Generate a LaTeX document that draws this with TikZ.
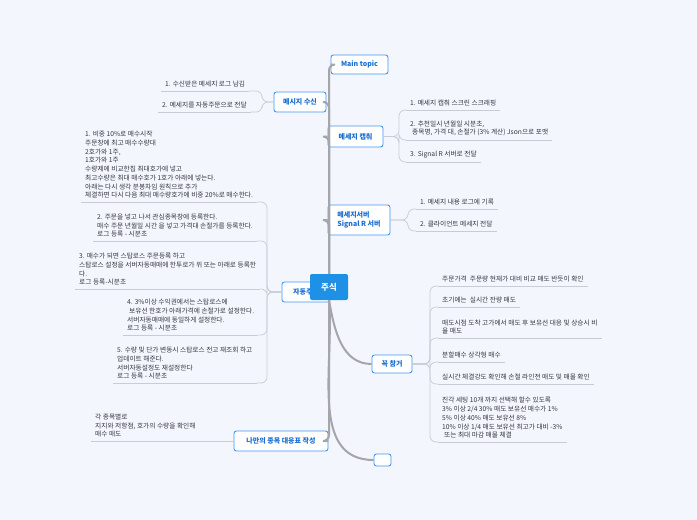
\documentclass[tikz,border=0pt]{standalone}
\usepackage{fontspec}
\setmainfont{Noto Sans CJK KR}
\definecolor{pagebg}{RGB}{243,246,253}
\definecolor{hubblue}{RGB}{30,144,230}
\definecolor{topicline}{RGB}{70,150,240}
\definecolor{topictext}{RGB}{25,110,210}
\definecolor{leaftext}{RGB}{55,55,65}
\definecolor{trunkgray}{RGB}{165,165,172}
\definecolor{twiggray}{RGB}{200,204,213}
\newcommand{\leaffont}{\fontsize{6.7}{8.7}\selectfont}
\newcommand{\topicfont}{\fontsize{7}{9}\selectfont\bfseries}

\begin{document}
\begin{tikzpicture}[x=1pt, y=-1pt,
    topic/.style={draw=topicline, fill=white, line width=0.9pt, rounded corners=2.5pt, text=topictext, font=\topicfont, align=center, inner sep=2pt},
    leaf/.style={anchor=south west, align=left, font=\leaffont, text=leaftext, inner xsep=4pt, inner ysep=3.5pt,
        append after command={(\tikzlastnode.south west) edge[twig] (\tikzlastnode.south east)}},
    trunk/.style={draw=trunkgray, line width=2pt, rounded corners=6pt},
    twig/.style={draw=twiggray, line width=0.7pt, rounded corners=6pt}]
    % Background
    \fill[pagebg] (0,0) rectangle (697,520);
    \useasboundingbox (0,0) rectangle (697,520);

    % Junctions
    \coordinate (jrecv) at (262,102);
    \coordinate (jcapt) at (399,136.5);
    \coordinate (jsigr) at (408,220);
    \coordinate (jauto) at (267,292);
    \coordinate (jmust) at (430,364);

    % Topics
    \node[topic, minimum width=57pt, minimum height=19pt] (main) at (359.5,64.5) {Main topic};
    \node[topic, minimum width=52pt, minimum height=20pt] (recv) at (300,102) {메시지 수신};
    \node[topic, minimum width=55pt, minimum height=21pt] (capt) at (355.5,136.5) {메세지 캡춰};
    \node[topic, minimum width=62pt, minimum height=30pt, align=left] (sigr) at (359,220) {메세지서버\\Signal R 서버};
    \node[topic, minimum width=48pt, minimum height=20pt] (auto) at (306,292) {자동주문};
    \node[topic, minimum width=40pt, minimum height=18pt] (must) at (392,364) {꼭 참거};
    \node[topic, minimum width=94pt, minimum height=20pt] (plan) at (281,441) {나만의 종목 대응표 작성};
    \node[topic, minimum width=17pt, minimum height=12pt] (blank) at (382.5,460) {};

    % Centre
    \node[fill=hubblue, rounded corners=2pt, minimum width=38pt, minimum height=26pt, text=white, font=\fontsize{8.5}{10}\selectfont\bfseries] (hub) at (329,287) {주식};

    % Trunk lines
    \draw[trunk] (hub.north) |- (main.west);
    \draw[trunk] (hub.north) |- (recv.east);
    \draw[trunk] (hub.north) |- (capt.west);
    \draw[trunk] (hub.north) |- (sigr.west);
    \draw[trunk] (hub.south) |- (plan.east);
    \draw[trunk] (hub.south) to[out=-80, in=180] (must.west);
    \draw[trunk] (hub.south) to[out=-85, in=180] (blank.west);

    % Message in
    \node[leaf] (r1) at (161,91) {1. 수신받은 메세지 로그 남김};
    \node[leaf] (r2) at (158,112) {2. 메세지를 자동주문으로 전달};
    \draw[twig] (recv.west) -- (jrecv) |- (r1.south east);
    \draw[twig] (recv.west) -- (jrecv) |- (r2.south east);

    % Capture
    \node[leaf] (c1) at (406,110) {1. 메세지 캡춰 스크린 스크래핑};
    \node[leaf] (c2) at (406,140) {2. 추천일시 년월일 시분초,\\\hspace{2pt}종목명, 가격 대, 손절가 (3\% 계산) Json으로 포맷};
    \node[leaf] (c3) at (406,162) {3. Signal R 서버로 전달};
    \draw[twig] (capt.east) -- (jcapt) |- (c1.south west);
    \draw[twig] (capt.east) -- (jcapt) |- (c2.south west);
    \draw[twig] (capt.east) -- (jcapt) |- (c3.south west);

    % Signal R server
    \node[leaf] (s1) at (416,209) {1. 메세지 내용 로그에 기록};
    \node[leaf] (s2) at (416,231) {2. 클라이언트 메세지 전달};
    \draw[twig] (sigr.east) -- (jsigr) |- (s1.south west);
    \draw[twig] (sigr.east) -- (jsigr) |- (s2.south west);

    % Auto order
    \node[leaf] (a1) at (81,202) {1. 비중 10\%로 매수시작\\주문창에 최고 매수수량대\\2호가와 1주,\\1호가와 1주\\수량제에 비교한칩 최대호가에 넣고\\최고수량은 최대 매수호가 1호가 아래에 넣는다.\\아래는 다시 생각 분봉차임 원칙으로 추가\\체결하면 다시 다음 최대 매수량호가에 비중 20\%로 매수한다.};
    \node[leaf] (a2) at (93,241) {2. 주문을 넣고 나서 관심종목창에 등록한다.\\매수 주문 년월일 시간 을 넣고 가격대 손절가를 등록한다.\\로그 등록 - 시분초};
    \node[leaf] (a3) at (75,289) {3. 매수가 되면 스탑로스 주문등록 하고\\스탑로스 설정을 서버자동매매에 한투로가 위 또는 아래로 등록한\\다.\\로그 등록-시분초};
    \node[leaf] (a4) at (123,335) {4. 3\%이상 수익권에서는 스탑로스에\\\hspace{2pt}보유선 한호가 아래가격에 손절가로 설정한다.\\서버자동매매에 동일하게 설정한다.\\로그 등록 - 시분초};
    \node[leaf] (a5) at (113,383) {5. 수량 및 단가 변동시 스탑로스 전고 재조회 하고\\업데이트 해준다.\\서버자동설정도 재설정한다\\로그 등록 - 시분초};
    \draw[twig] (auto.west) -- (jauto) |- (a1.south east);
    \draw[twig] (auto.west) -- (jauto) |- (a2.south east);
    \draw[twig] (auto.west) -- (jauto) |- (a3.south east);
    \draw[twig] (auto.west) -- (jauto) |- (a4.south east);
    \draw[twig] (auto.west) -- (jauto) |- (a5.south east);

    % Must check
    \node[leaf] (m1) at (438,286) {주문가격\ \ 주문량 현재가 대비 비교 매도 반듯이 확인};
    \node[leaf] (m2) at (438,307) {초기에는\ \ 실시간 잔량 매도};
    \node[leaf] (m3) at (438,338) {매도시점 도착 고가에서 매도 후 보유선 대응 및 상승시 비\\율 매도};
    \node[leaf] (m4) at (438,362) {분할매수 상각형 매수};
    \node[leaf] (m5) at (438,384) {실시간 체결강도 확인해 손절 라인전 매도 및 매물 확인};
    \node[leaf] (m6) at (438,442) {진각 세팅 10개 까지 선택해 할수 있도록\\3\% 이상 2/4 30\% 매도 보유선 매수가 1\%\\5\% 이상 40\% 매도 보유선 8\%\\10\% 이상 1/4 매도 보유선 최고가 대비 -3\%\\\hspace{2pt}또는 최대 마감 매물 체결};
    \draw[twig] (must.east) -- (jmust) |- (m1.south west);
    \draw[twig] (must.east) -- (jmust) |- (m2.south west);
    \draw[twig] (must.east) -- (jmust) |- (m3.south west);
    \draw[twig] (must.east) -- (jmust) |- (m4.south west);
    \draw[twig] (must.east) -- (jmust) |- (m5.south west);
    \draw[twig] (must.east) -- (jmust) |- (m6.south west);

    % Own table
    \node[leaf] (p1) at (91,441) {각 종목별로\\지지와 저항점, 호가의 수량을 확인해\\매수 매도};
    \draw[twig] (p1.south east) -- (plan.west);
\end{tikzpicture}
\end{document}
